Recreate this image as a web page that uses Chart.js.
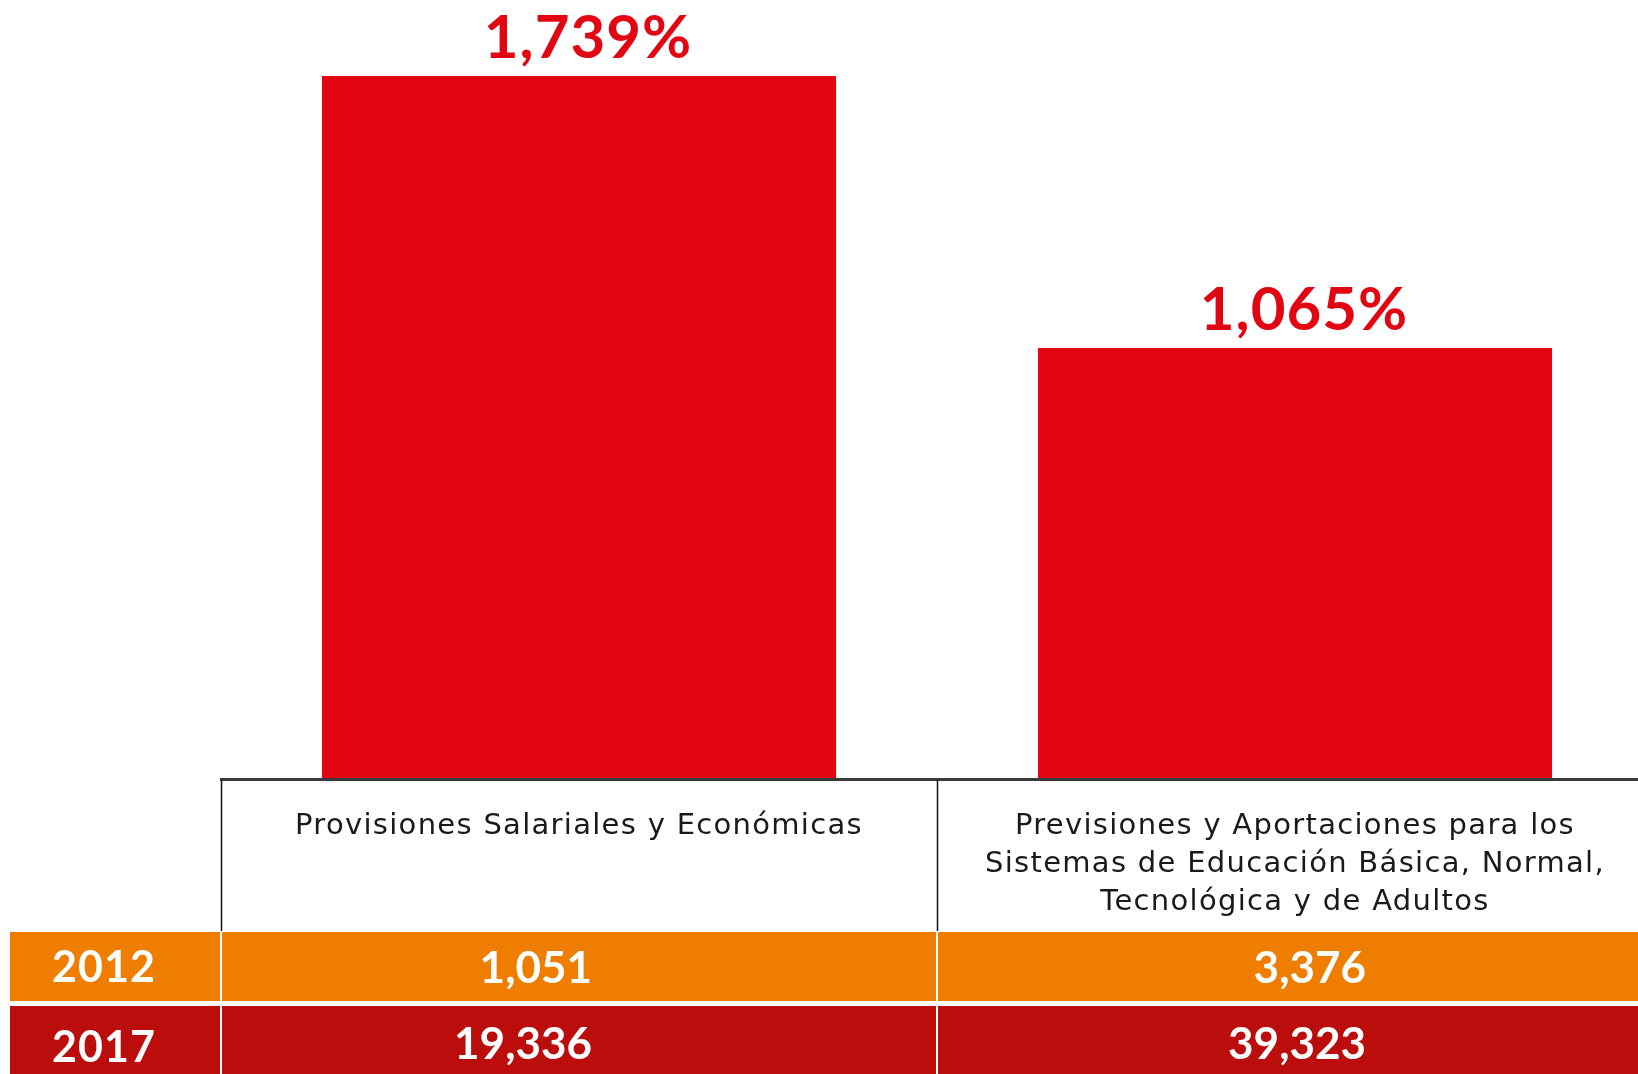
<!DOCTYPE html>
<html lang="es">
<head>
<meta charset="utf-8">
<title>Provisiones y Previsiones</title>
<script src="https://cdn.jsdelivr.net/npm/chart.js@4/dist/chart.umd.min.js"></script>
<style>
  html, body { margin: 0; padding: 0; background: #ffffff; overflow: hidden; }
  #wrap { width: 1660px; height: 1074px; }
</style>
</head>
<body>
<div id="wrap"><canvas id="growthChart" width="1660" height="1074"></canvas></div>
<script>
// rubros (each entry split into its printed lines)
const categories = [
    ["Provisiones Salariales y Económicas"],
    ["Previsiones y Aportaciones para los", "Sistemas de Educación Básica, Normal,", "Tecnológica y de Adultos"]
];
const growthPct = [1739, 1065];
const years = ["2012", "2017"];
const amounts2012 = [1051, 3376];
const amounts2017 = [19336, 39323];

const RED = "#e20613";
const ORANGE = "#ef7d00";
const DARK_RED = "#bc0d0d";
const FONT = "Lato, 'Liberation Sans', sans-serif";
const HEAD_FONT = "'DejaVu Sans', 'Open Sans', sans-serif";

const fmt = (n) => n.toLocaleString("en-US");

// percent labels above each bar
const barLabels = {
    id: "barLabels",
    afterDatasetsDraw(chart) {
        const ctx = chart.ctx;
        const meta = chart.getDatasetMeta(0);
        ctx.save();
        ctx.fillStyle = RED;
        ctx.font = "bold 60px " + FONT;
        ctx.letterSpacing = "1px";
        ctx.textAlign = "center";
        ctx.textBaseline = "alphabetic";
        meta.data.forEach((bar, i) => {
            ctx.fillText(fmt(growthPct[i]) + "%", bar.x + 9, bar.y - 18);
        });
        ctx.restore();
    }
};

// table under the bars: rubro names and the two yearly rows
const dataTable = {
    id: "dataTable",
    afterDraw(chart) {
        const ctx = chart.ctx;
        const xs = chart.scales.x;
        const top = chart.chartArea.bottom;
        const W = chart.width;
        const H = chart.height;
        const slot = (xs.right - xs.left) / categories.length;
        const headBottom = top + 153;
        const rowH = 69;
        const row1 = headBottom + 1;
        const row2 = row1 + rowH + 5;

        ctx.save();
        // coloured rows
        ctx.fillStyle = ORANGE;
        ctx.fillRect(10, row1, W - 10, rowH);
        ctx.fillStyle = DARK_RED;
        ctx.fillRect(10, row2, W - 10, H - row2);

        // header frame
        ctx.strokeStyle = "#3a3a3a";
        ctx.lineWidth = 3;
        ctx.beginPath();
        ctx.moveTo(xs.left - 1, top + 1.5);
        ctx.lineTo(W, top + 1.5);
        ctx.stroke();
        ctx.strokeStyle = "#111111";
        ctx.lineWidth = 1.5;
        for (let i = 0; i < categories.length; i++) {
            const bx = Math.round(xs.left + i * slot) + 0.5;
            ctx.beginPath();
            ctx.moveTo(bx, top + 2);
            ctx.lineTo(bx, headBottom);
            ctx.stroke();
        }
        // white separators in the coloured rows
        ctx.strokeStyle = "#ffffff";
        ctx.lineWidth = 2;
        for (let i = 0; i < categories.length; i++) {
            const bx = Math.round(xs.left + i * slot);
            ctx.beginPath();
            ctx.moveTo(bx, row1);
            ctx.lineTo(bx, H);
            ctx.stroke();
        }

        // header text
        ctx.fillStyle = "#1a1a1a";
        ctx.font = "29px " + HEAD_FONT;
        ctx.letterSpacing = "1.3px";
        ctx.textAlign = "center";
        ctx.textBaseline = "middle";
        categories.forEach((lines, i) => {
            const cx = xs.getPixelForValue(i);
            lines.forEach((line, j) => {
                ctx.fillText(line, cx, top + 48 + j * 38);
            });
        });

        // year labels
        ctx.fillStyle = "#ffffff";
        ctx.font = "bold 43px " + FONT;
        ctx.letterSpacing = "1px";
        ctx.fillText(years[0], 104, row1 + rowH / 2 + 2);
        ctx.fillText(years[1], 104, row2 + 42);

        // amounts
        ctx.letterSpacing = "0px";
        ctx.font = "bold 44px " + FONT;
        ctx.textAlign = "right";
        const rows = [amounts2012, amounts2017];
        rows.forEach((vals, r) => {
            const cy = r === 0 ? row1 + rowH / 2 + 2 : row2 + 39;
            vals.forEach((v, i) => {
                const cx = xs.getPixelForValue(i);
                ctx.fillText(fmt(v), cx + (i === 0 ? 13 : 71), cy);
            });
        });
        ctx.restore();
    }
};

function drawChart() {
    const canvas = document.getElementById("growthChart");
    new Chart(canvas, {
        type: "bar",
        data: {
            labels: categories,
            datasets: [{
                data: growthPct,
                backgroundColor: RED,
                borderWidth: 0,
                barPercentage: 1,
                categoryPercentage: 0.718
            }]
        },
        options: {
            responsive: false,
            animation: false,
            devicePixelRatio: 1,
            layout: { padding: { left: 221, right: 7, top: 0, bottom: 296 } },
            plugins: { legend: { display: false }, tooltip: { enabled: false } },
            scales: {
                x: { display: false },
                y: { display: false, min: 0, max: 1927 }
            }
        },
        plugins: [barLabels, dataTable]
    });
}

document.addEventListener("DOMContentLoaded", () => {
    Promise.all([
        document.fonts.load("bold 60px Lato"),
        document.fonts.load("29px 'DejaVu Sans'")
    ]).then(drawChart, drawChart);
});
</script>
</body>
</html>
